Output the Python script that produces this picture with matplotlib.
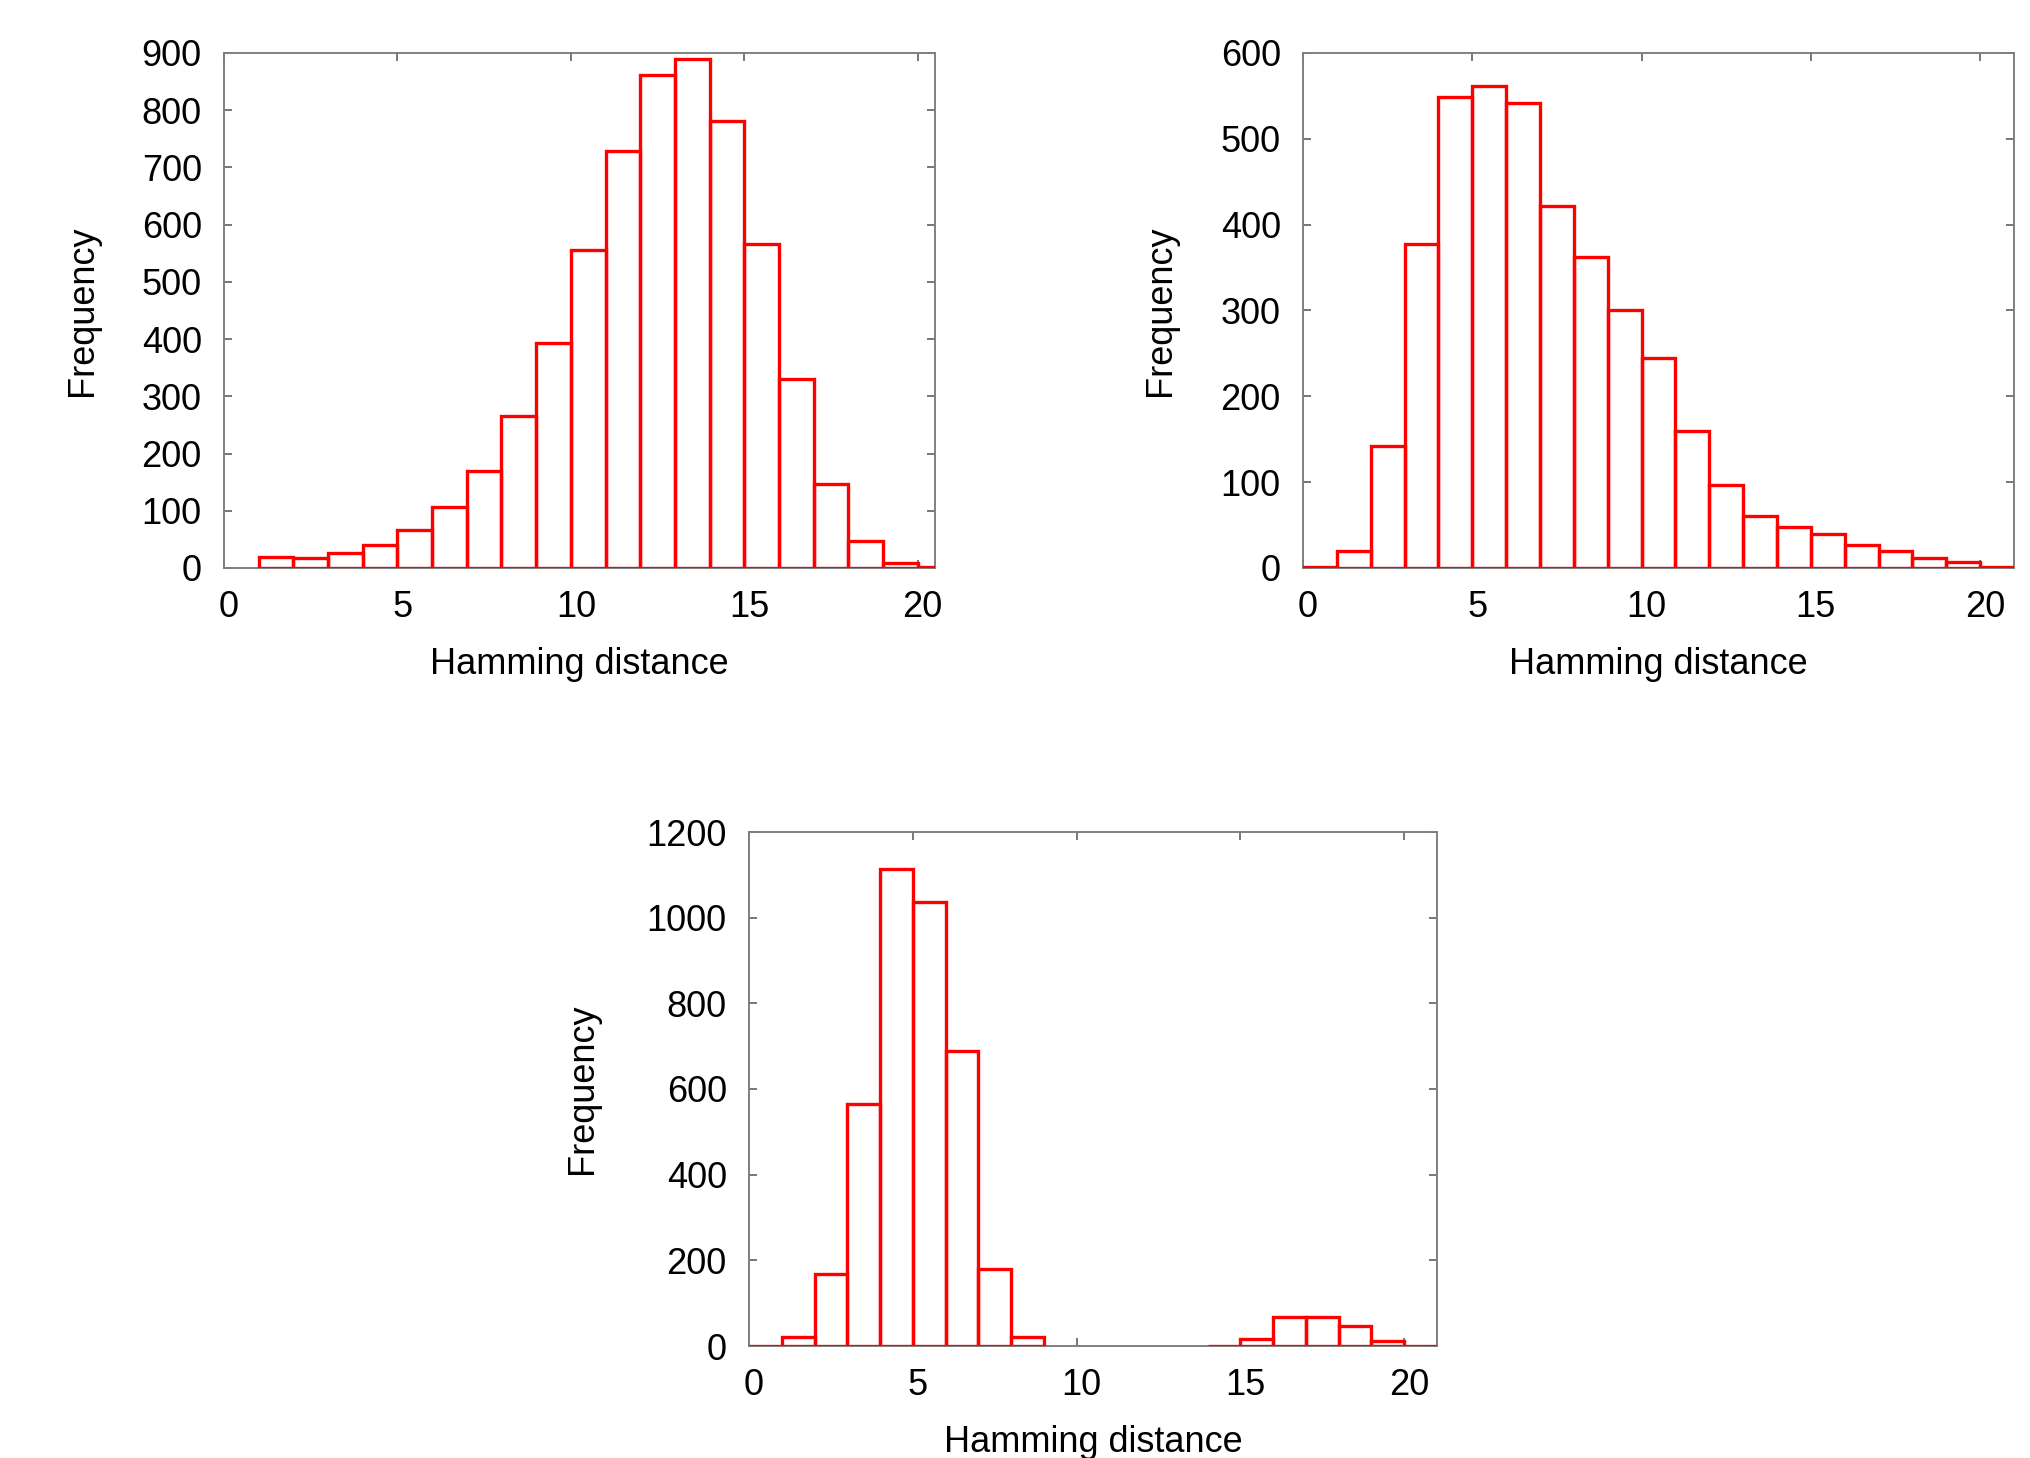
import matplotlib
matplotlib.use("Agg")
import matplotlib.pyplot as plt
import matplotlib.transforms as mtransforms

plt.rcParams["font.family"] = ["Liberation Sans", "DejaVu Sans"]

# Histogram counts per Hamming-distance bin (left bin edges, bin width 1)
top_left_bins = list(range(1, 21))
top_left_freq = [19, 17, 26, 41, 67, 107, 169, 266, 393, 555,
                 728, 861, 890, 781, 567, 330, 146, 47, 9, 2]

top_right_bins = list(range(0, 21))
top_right_freq = [1, 20, 142, 377, 549, 562, 542, 422, 362, 301,
                  245, 160, 97, 60, 48, 40, 27, 20, 12, 7, 1]

bottom_bins = [0, 1, 2, 3, 4, 5, 6, 7, 8, 14, 15, 16, 17, 18, 19, 20]
bottom_freq = [0, 21, 169, 566, 1114, 1037, 688, 179, 22, 0, 17, 67, 67, 47, 12, 0]

x_ticks = [0, 5, 10, 15, 20]

W, H = 2030, 1458
fig = plt.figure(figsize=(W / 100, H / 100), dpi=100)


def px_axes(left, top, right, bottom):
    return fig.add_axes([left / W, 1 - bottom / H, (right - left) / W, (bottom - top) / H])


def draw_hist(ax, bins, freq, xmax, ymax, ystep, ylab_x):
    ax.bar(bins, freq, width=1, align="edge", fill=False,
           edgecolor="#ff0000", linewidth=2.4, zorder=3)
    ax.set_xlim(0, xmax)
    ax.set_ylim(0, ymax)
    ax.set_xticks(x_ticks)
    ax.set_yticks(range(0, ymax + 1, ystep))
    for s in ax.spines.values():
        s.set_color("#808080")
        s.set_linewidth(1.4)
    ax.tick_params(direction="in", length=6, width=1.2, color="#606060",
                   top=True, right=True, labelsize=26, pad=15.5)
    ax.tick_params(axis="y", pad=16)
    off = mtransforms.ScaledTranslation(5 / 100, 0, fig.dpi_scale_trans)
    for lab in ax.get_xticklabels():
        lab.set_transform(lab.get_transform() + off)
    ax.set_xlabel("Hamming distance", fontsize=26)
    ax.set_ylabel("Frequency", fontsize=26)
    ax.xaxis.set_label_coords(0.5, -0.153)
    ax.yaxis.set_label_coords(ylab_x, 0.5)


ax1 = px_axes(224, 53, 935, 568)
draw_hist(ax1, top_left_bins, top_left_freq, 20.5, 900, 100, -0.175)

ax2 = px_axes(1303, 53, 2014, 568)
draw_hist(ax2, top_right_bins, top_right_freq, 21, 600, 100, -0.176)

ax3 = px_axes(749, 832, 1437, 1346)
draw_hist(ax3, bottom_bins, bottom_freq, 21, 1200, 200, -0.216)

fig.savefig("out.png", dpi=100)
